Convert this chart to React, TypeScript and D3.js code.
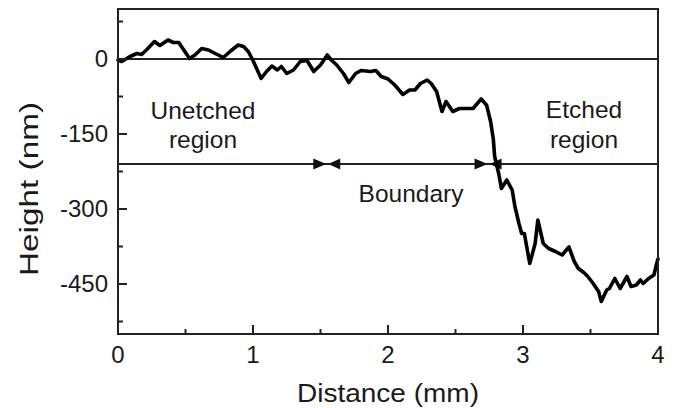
import React from "react";
import * as d3 from "d3";

const distance = [0,0.027,0.089,0.14,0.175,0.21,0.27,0.31,0.37,0.41,0.45,0.48,0.53,0.57,0.62,0.67,0.72,0.78,0.83,0.89,0.93,0.965,1.0,1.01,1.06,1.10,1.14,1.18,1.21,1.25,1.30,1.35,1.40,1.45,1.50,1.55,1.58,1.62,1.67,1.71,1.76,1.80,1.87,1.91,1.95,2.0,2.05,2.11,2.16,2.2,2.24,2.29,2.32,2.36,2.40,2.43,2.48,2.53,2.58,2.63,2.69,2.73,2.76,2.78,2.79,2.82,2.84,2.88,2.92,2.94,2.97,2.99,3.01,3.05,3.09,3.11,3.15,3.19,3.24,3.29,3.34,3.38,3.41,3.45,3.48,3.52,3.56,3.58,3.62,3.64,3.68,3.72,3.77,3.80,3.84,3.87,3.89,3.93,3.97,3.99,4.0];
const height = [-2,-5,5,11,9,18,35,27,38,33,33,21,1,8,21,18,11,3,15,28,25,15,-3,-9,-39,-25,-14,-22,-15,-29,-22,-5,-3,-25,-12,8,-2,-12,-29,-47,-29,-23,-25,-23,-35,-40,-52,-71,-62,-62,-49,-42,-49,-65,-105,-85,-105,-99,-99,-99,-80,-92,-125,-160,-195,-229,-259,-242,-262,-295,-329,-349,-349,-409,-369,-322,-369,-379,-385,-392,-376,-405,-419,-427,-435,-449,-465,-485,-462,-459,-439,-459,-435,-455,-452,-442,-449,-439,-432,-409,-400];

const xTicks = [0, 1, 2, 3, 4];
const xMinor = [0.5, 1.5, 2.5, 3.5];
const yTicks = [0, -150, -300, -450];
const yMinor = [75, -75, -225, -375, -525];
const refLines = [0, -210];
const arrowTips = [1.55, 2.745];

const W = 675, H = 408;
const L = 118, R = 658, T = 9, B = 334;

export default function App() {
  const x = d3.scaleLinear().domain([0, 4]).range([L, R]);
  const y = d3.scaleLinear().domain([-550, 100]).range([B, T]);
  const line = d3.line<number>().x((_, i) => x(distance[i])).y((d) => y(d));
  const font = "Liberation Sans, Arial, sans-serif";
  const txt = "#1a1a1a";
  const ay = y(-210);
  return (
    <svg width={W} height={H} style={{ position: "absolute", left: 0, top: 0 }} fontFamily={font}>
      <rect width={W} height={H} fill="#fff" />
      {refLines.map((v) => (
        <line key={v} x1={L} x2={R} y1={y(v)} y2={y(v)} stroke="#222" strokeWidth={2} />
      ))}
      {arrowTips.map((t) => {
        const tx = x(t);
        return (
          <g key={t} fill="#111">
            <path d={`M${tx - 1},${ay} L${tx - 14},${ay - 5.5} L${tx - 14},${ay + 5.5} Z`} />
            <path d={`M${tx + 1},${ay} L${tx + 13},${ay - 5.5} L${tx + 13},${ay + 5.5} Z`} />
          </g>
        );
      })}
      <path d={line(height) || ""} fill="none" stroke="#000" strokeWidth={3.6} strokeLinejoin="round" strokeLinecap="round" />
      <rect x={L} y={T} width={R - L} height={B - T} fill="none" stroke="#222" strokeWidth={2} />
      {xTicks.map((t) => (
        <g key={t}>
          <line x1={x(t)} x2={x(t)} y1={B} y2={B - 9} stroke="#222" strokeWidth={2} />
          <text x={x(t)} y={363} textAnchor="middle" fontSize={24} fill={txt}>{t}</text>
        </g>
      ))}
      {xMinor.map((t) => (
        <line key={t} x1={x(t)} x2={x(t)} y1={B} y2={B - 5} stroke="#222" strokeWidth={2} />
      ))}
      {yTicks.map((t) => (
        <g key={t}>
          <line x1={L} x2={L + 9} y1={y(t)} y2={y(t)} stroke="#222" strokeWidth={2} />
          <text x={108} y={y(t) + 8} textAnchor="end" fontSize={24} fill={txt}>{t}</text>
        </g>
      ))}
      {yMinor.map((t) => (
        <line key={t} x1={L} x2={L + 5} y1={y(t)} y2={y(t)} stroke="#222" strokeWidth={2} />
      ))}
      <text x={388} y={402} textAnchor="middle" fontSize={25} fill={txt} textLength={182} lengthAdjust="spacingAndGlyphs">Distance (mm)</text>
      <text transform="translate(38,189) rotate(-90)" textAnchor="middle" fontSize={25} fill={txt} textLength={174} lengthAdjust="spacingAndGlyphs">Height (nm)</text>
      <text x={203} y={119} textAnchor="middle" fontSize={24.5} fill={txt}>Unetched</text>
      <text x={203} y={148} textAnchor="middle" fontSize={24.5} fill={txt}>region</text>
      <text x={411} y={202} textAnchor="middle" fontSize={24.5} fill={txt}>Boundary</text>
      <text x={584} y={118} textAnchor="middle" fontSize={24.5} fill={txt}>Etched</text>
      <text x={584} y={148} textAnchor="middle" fontSize={24.5} fill={txt}>region</text>
    </svg>
  );
}
